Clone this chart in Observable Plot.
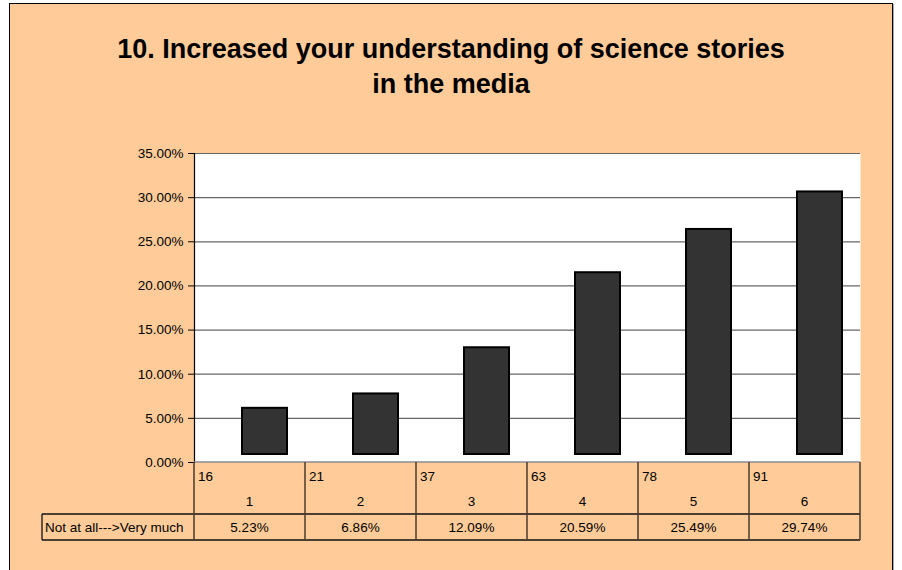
<!DOCTYPE html>
<html><head><meta charset="utf-8">
<script src="https://cdn.jsdelivr.net/npm/d3@7"></script>
<script src="https://cdn.jsdelivr.net/npm/@observablehq/plot@0.6"></script>
<style>
body{margin:0;background:#fff;}
#wrap{position:relative;width:902px;height:570px;overflow:hidden;font-family:Arial,"Liberation Sans",sans-serif;}
#frame{position:absolute;left:9px;top:3px;width:884px;height:620px;border:1.5px solid #000;background:#FFCC99;box-sizing:border-box;box-shadow:1px 1px 0 #aaa;}
#title{position:absolute;left:10px;width:882px;top:32px;text-align:center;font-weight:bold;font-size:27px;line-height:35px;color:#000;}
#chart{position:absolute;left:0;top:0;}
</style></head>
<body><div id="wrap"><div id="frame"></div><div id="title">10. Increased your understanding of science stories<br>in the media</div><div id="chart"></div></div>
<script>
const categories = ["1","2","3","4","5","6"];
const counts = [16, 21, 37, 63, 78, 91];
const percents = [5.23, 6.86, 12.09, 20.59, 25.49, 29.74];
const percentLabels = ["5.23%", "6.86%", "12.09%", "20.59%", "25.49%", "29.74%"];
const yTicks = [0, 5, 10, 15, 20, 25, 30, 35];
const rowHeader = "Not at all--->Very much";

const data = categories.map((c, i) => ({cat: c, count: counts[i], pct: percents[i], label: percentLabels[i]}));
const FONT = "Arial, 'Liberation Sans', sans-serif";

const chart = Plot.plot({
  width: 902, height: 570,
  marginTop: 153, marginBottom: 108, marginLeft: 194, marginRight: 42,
  style: {background: "transparent", fontFamily: FONT, fontSize: "13.5px", color: "#000", overflow: "visible"},
  x: {domain: categories, padding: 0, axis: null},
  y: {domain: [0, 35]},
  marks: [
    Plot.frame({fill: "white", stroke: null}),
    Plot.ruleY(yTicks.filter(d => d > 0), {stroke: "#666", strokeWidth: 1.2}),
    Plot.barY(data, {x: "cat", y: "pct", fill: "#333333", stroke: "#000", strokeWidth: 2,
      insetLeft: 33, insetRight: 33, dx: 15, dy: -8}),
    Plot.axisY({ticks: yTicks, tickFormat: d => d.toFixed(2) + "%", tickSize: 6, tickPadding: 5,
      stroke: "#000", fill: "#000", label: null, fontSize: 13.5}),
    Plot.frame({anchor: "left", stroke: "#000", strokeWidth: 1.2})
  ]
});
document.getElementById("chart").appendChild(chart);

// data table under the chart, positioned with the plot's own scales
const sx = chart.scale("x");
const sy = chart.scale("y");
const bw = sx.bandwidth;
const y0 = sy.apply(0);
const row1 = 52, row2 = 26;
const left = sx.apply(categories[0]);
const right = sx.apply(categories[categories.length - 1]) + bw;
const headerLeft = 42;
const svg = d3.select(chart);
const g = svg.append("g").attr("font-family", FONT).attr("font-size", "13.5px")
  .attr("fill", "#000").attr("text-anchor", "start");

g.append("line").attr("x1", left).attr("x2", right).attr("y1", y0).attr("y2", y0)
  .attr("stroke", "#888").attr("stroke-width", 1.5);
[y0 + row1, y0 + row1 + row2].forEach(y => {
  g.append("line").attr("x1", headerLeft).attr("x2", right).attr("y1", y).attr("y2", y)
    .attr("stroke", "#111").attr("stroke-width", 1.3);
});
const edges = categories.map(c => sx.apply(c)).concat([right]);
edges.forEach(x => {
  g.append("line").attr("x1", x).attr("x2", x).attr("y1", y0).attr("y2", y0 + row1 + row2)
    .attr("stroke", "#4a3a2c").attr("stroke-width", 1.5);
});
g.append("line").attr("x1", headerLeft).attr("x2", headerLeft).attr("y1", y0 + row1).attr("y2", y0 + row1 + row2)
  .attr("stroke", "#111").attr("stroke-width", 1.3);

data.forEach(d => {
  const x = sx.apply(d.cat);
  g.append("text").attr("x", x + 4).attr("y", y0 + 18.5).attr("text-anchor", "start").text(d.count);
  g.append("text").attr("x", x + bw / 2).attr("y", y0 + 44).attr("text-anchor", "middle").text(d.cat);
  g.append("text").attr("x", x + bw / 2).attr("y", y0 + 69.5).attr("text-anchor", "middle").text(d.label);
});
g.append("text").attr("x", headerLeft + 3).attr("y", y0 + 69.5).attr("text-anchor", "start").text(rowHeader);
</script>
</body></html>
